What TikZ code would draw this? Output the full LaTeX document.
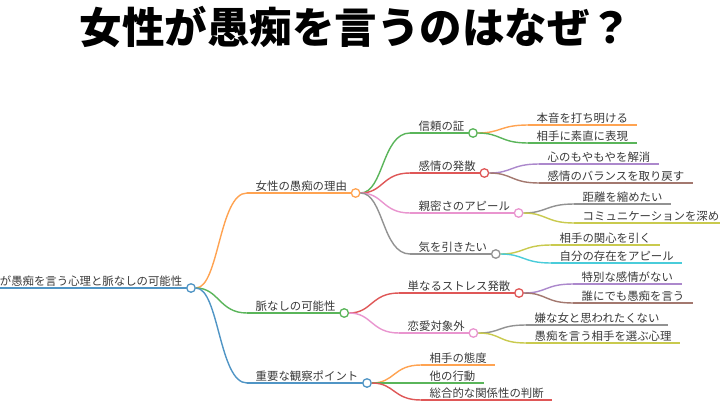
\documentclass[tikz,border=0pt]{standalone}
\usepackage{fontspec}
\setmainfont{Noto Sans CJK JP}
\definecolor{cblueb}{HTML}{1F77B4}
\definecolor{corangeb}{HTML}{FF7F0E}
\definecolor{cgreenb}{HTML}{2CA02C}
\definecolor{credb}{HTML}{D62728}
\definecolor{cpurpleb}{HTML}{9467BD}
\definecolor{cbrownb}{HTML}{8C564B}
\definecolor{cpinkb}{HTML}{E377C2}
\definecolor{cgrayb}{HTML}{7F7F7F}
\definecolor{coliveb}{HTML}{BCBD22}
\definecolor{ccyanb}{HTML}{17BECF}
\colorlet{cblue}{cblueb!78!white}
\colorlet{corange}{corangeb!72!white}
\colorlet{cgreen}{cgreenb!78!white}
\colorlet{cred}{credb!78!white}
\colorlet{cpurple}{cpurpleb!78!white}
\colorlet{cbrown}{cbrownb!80!white}
\colorlet{cpink}{cpinkb!78!white}
\colorlet{cgray}{cgrayb!85!white}
\colorlet{colive}{coliveb!80!white}
\colorlet{ccyan}{ccyanb!78!white}
\definecolor{ctext}{HTML}{3A3A3A}
\tikzset{
  lbl/.style={font=\fontsize{11.4}{12}\selectfont, text=ctext, inner xsep=8.5pt,
    inner ysep=1pt, text height=8.5pt, text depth=1pt, anchor=south west},
  dot/.style={circle, draw=#1, fill=white, line width=1.3pt, minimum size=8.5pt, inner sep=0pt},
  br/.style={draw=#1, line width=1.4pt},
}
\newcommand\mmnode[5]{%
  \node[lbl] (#2) at (#3,#4) {#5};
  \draw[br=#1] (#2.south west) -- (#2.south east);}
\newcommand\mmdot[2]{\node[dot=#1] (#2c) at (#2.south east) {};}
\newcommand\mmconn[3]{\draw[br=#1] (#2) .. controls +(28,0) and +(-28,0) .. (#3.south west);}
\begin{document}
\begin{tikzpicture}[x=1pt,y=-1pt]
\useasboundingbox (0,0) rectangle (720,405);
\clip (0,0) rectangle (720,405);
\fill[white] (0,0) rectangle (720,405);
% title
\node[font=\fontsize{42.5}{44}\selectfont\bfseries, inner sep=0pt] (title) at (356,27) {女性が愚痴を言うのはなぜ？};
% root
\node[lbl, anchor=south east] (r) at (191,288) {女性が愚痴を言う心理と脈なしの可能性};
\coordinate (rl) at (-10,288);
\draw[br=cblue, line width=1.9pt] (rl) -- (r.south east);
\node[dot=cblue] (rc) at (r.south east) {};
% level 1
\mmnode{corange}{A}{247}{193}{女性の愚痴の理由}\mmdot{corange}{A}
\mmnode{cgreen}{B}{247}{313}{脈なしの可能性}\mmdot{cgreen}{B}
\mmnode{cblue}{C}{247}{383}{重要な観察ポイント}\mmdot{cblue}{C}
\mmconn{corange}{rc}{A}
\mmconn{cgreen}{rc}{B}
\mmconn{cblue}{rc}{C}
% level 2 under A
\mmnode{cgreen}{A1}{410}{133}{信頼の証}\mmdot{cgreen}{A1}
\mmnode{cred}{A2}{410}{173}{感情の発散}\mmdot{cred}{A2}
\mmnode{cpink}{A3}{410}{213}{親密さのアピール}\mmdot{cpink}{A3}
\mmnode{cgray}{A4}{410}{254}{気を引きたい}\mmdot{cgray}{A4}
\mmconn{cgreen}{Ac}{A1}
\mmconn{cred}{Ac}{A2}
\mmconn{cpink}{Ac}{A3}
\mmconn{cgray}{Ac}{A4}
% level 2 under B
\mmnode{cred}{B1}{399}{293}{単なるストレス発散}\mmdot{cred}{B1}
\mmnode{cpink}{B2}{399}{333}{恋愛対象外}\mmdot{cpink}{B2}
\mmconn{cred}{Bc}{B1}
\mmconn{cpink}{Bc}{B2}
% level 2 under C
\mmnode{corange}{C1}{421}{365}{相手の態度}
\mmnode{cgreen}{C2}{421}{383}{他の行動}
\mmnode{cred}{C3}{421}{400}{総合的な関係性の判断}
\mmconn{corange}{Cc}{C1}
\mmconn{cgreen}{Cc}{C2}
\mmconn{cred}{Cc}{C3}
% level 3
\mmnode{corange}{A11}{528}{125}{本音を打ち明ける}
\mmnode{cgreen}{A12}{528}{143}{相手に素直に表現}
\mmconn{corange}{A1c}{A11}
\mmconn{cgreen}{A1c}{A12}
\mmnode{cpurple}{A21}{539}{164}{心のもやもやを解消}
\mmnode{cbrown}{A22}{539}{183}{感情のバランスを取り戻す}
\mmconn{cpurple}{A2c}{A21}
\mmconn{cbrown}{A2c}{A22}
\mmnode{cgray}{A31}{574}{204}{距離を縮めたい}
\mmnode{colive}{A32}{574}{223}{コミュニケーションを深める}
\mmconn{cgray}{A3c}{A31}
\mmconn{colive}{A3c}{A32}
\mmnode{colive}{A41}{551}{245}{相手の関心を引く}
\mmnode{ccyan}{A42}{551}{263}{自分の存在をアピール}
\mmconn{colive}{A4c}{A41}
\mmconn{ccyan}{A4c}{A42}
\mmnode{cpurple}{B11}{573}{284}{特別な感情がない}
\mmnode{cbrown}{B12}{573}{303}{誰にでも愚痴を言う}
\mmconn{cpurple}{B1c}{B11}
\mmconn{cbrown}{B1c}{B12}
\mmnode{cgray}{B21}{526}{325}{嫌な女と思われたくない}
\mmnode{colive}{B22}{526}{343}{愚痴を言う相手を選ぶ心理}
\mmconn{cgray}{B2c}{B21}
\mmconn{colive}{B2c}{B22}
\end{tikzpicture}
\end{document}
